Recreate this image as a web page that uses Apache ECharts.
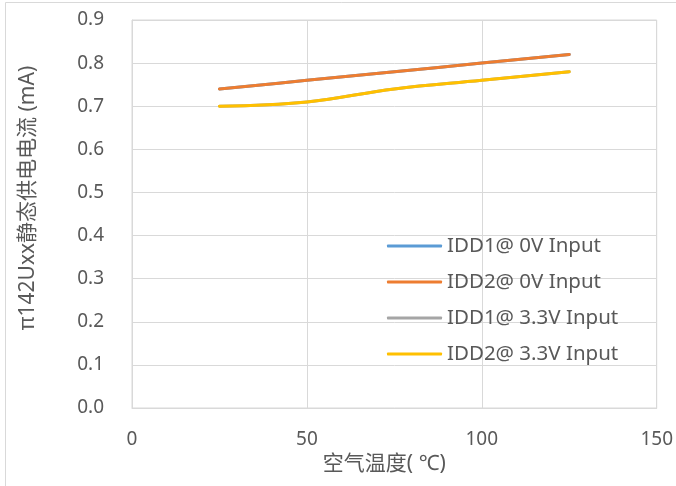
<!DOCTYPE html>
<html>
<head>
<meta charset="utf-8">
<script src="https://cdn.jsdelivr.net/npm/echarts@6/dist/echarts.min.js"></script>
<style>
html,body{margin:0;padding:0;background:#fff;}
#chart{width:676px;height:486px;}
</style>
</head>
<body>
<div id="chart"></div>
<script>
const temps = [25, 50, 75, 100, 125];
const idd1At0V = [0.74, 0.76, 0.78, 0.80, 0.82];
const idd2At0V = [0.74, 0.76, 0.78, 0.80, 0.82];
const idd1At33V = [0.70, 0.71, 0.74, 0.76, 0.78];
const idd2At33V = [0.70, 0.71, 0.74, 0.76, 0.78];
const seriesNames = ['IDD1@ 0V Input', 'IDD2@ 0V Input', 'IDD1@ 3.3V Input', 'IDD2@ 3.3V Input'];
const seriesColors = ['#5b9bd5', '#ed7d31', '#a5a5a5', '#ffc000'];
const seriesValues = [idd1At0V, idd2At0V, idd1At33V, idd2At33V];
const xAxisName = '空气温度( ℃)';
const yAxisName = 'π142Uxx静态供电电流 (mA)';

const FONT = '"Noto Sans", "Noto Sans CJK SC", sans-serif';
const TEXT = '#595959';
const GRID = '#d9d9d9';

const chart = echarts.init(document.getElementById('chart'), null, {renderer: 'canvas'});
chart.setOption({
  animation: false,
  backgroundColor: '#fff',
  textStyle: {fontFamily: FONT},
  graphic: [{
    type: 'rect',
    shape: {x: 5.5, y: 2.5, width: 700, height: 500},
    style: {fill: 'none', stroke: GRID, lineWidth: 1},
    silent: true, z: -10
  }],
  grid: {left: 132, right: 19, top: 20, bottom: 78, show: true, borderColor: GRID, borderWidth: 1},
  legend: {
    orient: 'vertical',
    left: 382,
    top: 230,
    icon: 'roundRect',
    itemWidth: 55,
    itemHeight: 3,
    itemGap: 14,
    textStyle: {color: TEXT, fontSize: 20.5, lineHeight: 22, fontFamily: FONT},
    data: seriesNames
  },
  xAxis: {
    type: 'value',
    min: 0, max: 150, interval: 50,
    name: xAxisName,
    nameLocation: 'middle',
    nameGap: 46,
    nameTextStyle: {color: TEXT, fontSize: 21, fontFamily: FONT, padding: [0, 20, 0, 0]},
    axisLine: {show: true, lineStyle: {color: GRID}},
    axisTick: {show: false},
    axisLabel: {color: TEXT, fontSize: 19, margin: 22, fontFamily: FONT},
    splitLine: {show: true, lineStyle: {color: GRID, width: 1}}
  },
  yAxis: {
    type: 'value',
    min: 0, max: 0.9, interval: 0.1,
    name: yAxisName,
    nameLocation: 'middle',
    nameGap: 93,
    nameRotate: 90,
    nameTextStyle: {color: TEXT, fontSize: 21, fontFamily: FONT, padding: [0, 0, 0, 32]},
    axisLine: {show: true, lineStyle: {color: GRID}},
    axisTick: {show: false},
    axisLabel: {color: TEXT, fontSize: 19, margin: 28, fontFamily: FONT, formatter: v => v.toFixed(1)},
    splitLine: {show: true, lineStyle: {color: GRID, width: 1}}
  },
  series: seriesNames.map((name, i) => ({
    name: name,
    type: 'line',
    data: temps.map((t, j) => [t, seriesValues[i][j]]),
    symbol: 'none',
    smooth: 0.4,
    color: seriesColors[i],
    lineStyle: {color: seriesColors[i], width: 3, cap: 'round'},
    z: 2 + i
  }))
});
</script>
</body>
</html>
